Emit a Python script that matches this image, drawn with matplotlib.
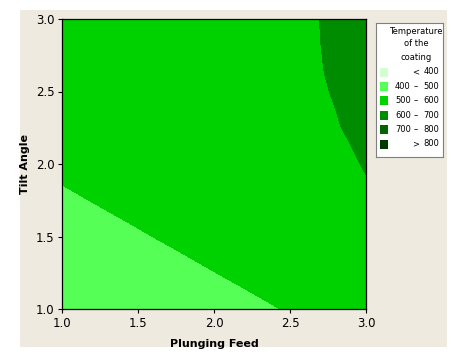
import numpy as np
import matplotlib
matplotlib.use("Agg")
import matplotlib.pyplot as plt
from matplotlib.patches import Rectangle

plt.rcParams['font.family'] = ['Liberation Sans Narrow', 'DejaVu Sans']

# grid of the response surface (estimated from the contour picture)
plunging_feed = [1.0, 1.25, 1.5, 1.75, 2.0, 2.25, 2.5, 2.75, 3.0]
tilt_angle = [1.0, 1.25, 1.5, 1.75, 1.875, 2.0, 2.125, 2.25, 2.375,
              2.5, 2.625, 2.75, 2.875, 3.0]

# temperature, one row per tilt angle
temp_y1000 = [416.8, 431.3, 445.8, 460.3, 474.8, 489.3, 503.8, 518.3, 532.8]
temp_y1250 = [443.2, 457.2, 471.2, 485.2, 499.2, 513.2, 527.2, 541.2, 555.2]
temp_y1500 = [467.9, 481.4, 494.9, 508.4, 521.9, 535.4, 548.9, 562.4, 575.9]
temp_y1750 = [490.8, 503.9, 517.1, 530.2, 543.3, 556.4, 569.6, 582.7, 595.8]
temp_y1875 = [501.6, 513.8, 525.9, 538.1, 550.2, 562.4, 574.5, 586.7, 598.8]
temp_y2000 = [511.0, 522.4, 533.7, 545.1, 556.4, 567.8, 579.1, 590.5, 601.8]
temp_y2125 = [519.2, 529.8, 540.4, 551.0, 561.7, 572.3, 582.9, 593.5, 604.1]
temp_y2250 = [526.5, 536.5, 546.5, 556.5, 566.5, 576.5, 586.5, 596.5, 606.5]
temp_y2375 = [532.6, 542.0, 551.3, 560.7, 570.0, 579.4, 588.7, 598.1, 607.4]
temp_y2500 = [538.1, 546.9, 555.7, 564.5, 573.3, 582.1, 590.9, 599.7, 608.5]
temp_y2625 = [542.8, 551.1, 559.4, 567.6, 575.9, 584.2, 592.5, 600.8, 609.0]
temp_y2750 = [546.7, 554.5, 562.3, 570.0, 577.8, 585.6, 593.4, 601.2, 608.9]
temp_y2875 = [550.2, 557.5, 564.9, 572.2, 579.5, 586.9, 594.2, 601.5, 608.8]
temp_y3000 = [553.1, 560.0, 566.9, 573.8, 580.7, 587.7, 594.6, 601.5, 608.4]

levels = [400, 500, 600, 700, 800]
colors = ['#D2FFD2', '#55FF55', '#00D200', '#008C00', '#006400', '#003A00']

Z = np.array([temp_y1000, temp_y1250, temp_y1500, temp_y1750, temp_y1875,
              temp_y2000, temp_y2125, temp_y2250, temp_y2375, temp_y2500,
              temp_y2625, temp_y2750, temp_y2875, temp_y3000])
X, Y = np.meshgrid(plunging_feed, tilt_angle)

fig = plt.figure(figsize=(4.52, 3.58), dpi=100)
fig.patch.set_facecolor('white')
# beige panel behind the chart
fig.patches.append(Rectangle((20 / 452, 1 - 347 / 358), 427 / 452, 337 / 358,
                             transform=fig.transFigure, facecolor='#EEEAE0',
                             edgecolor='none', zorder=-1))

ax = fig.add_axes([62 / 452, 1 - 309 / 358, 304 / 452, 290 / 358])
ax.contourf(X, Y, Z, levels=[0] + levels + [2000], colors=colors)
ax.set_xlim(1.0, 3.0)
ax.set_ylim(1.0, 3.0)
ax.set_xticks([1.0, 1.5, 2.0, 2.5, 3.0])
ax.set_yticks([1.0, 1.5, 2.0, 2.5, 3.0])
ax.tick_params(direction='out', length=3, width=0.8, labelsize=8.5, pad=2.5)
for s in ax.spines.values():
    s.set_linewidth(0.9)
ax.set_xlabel('Plunging Feed', fontsize=8, fontweight='bold', labelpad=7)
ax.set_ylabel('Tilt Angle', fontsize=8, fontweight='bold', labelpad=4)

# legend box
lg = fig.add_axes([376 / 452, 1 - 157 / 358, 67 / 452, 134 / 358])
lg.set_xlim(376, 443)
lg.set_ylim(157, 23)
lg.set_xticks([])
lg.set_yticks([])
for s in lg.spines.values():
    s.set_color('#7F7F7F')
    s.set_linewidth(0.8)
for i, line in enumerate(['Temperature', 'of the', 'coating']):
    lg.text(416, 31 + i * 13, line, ha='center', va='center', fontsize=6)

labels = ['<  ' + str(levels[0])]
for lo, hi in zip(levels[:-1], levels[1:]):
    labels.append(str(lo) + '  \u2013  ' + str(hi))
labels.append('>  ' + str(levels[-1]))

for i, (lab, c) in enumerate(zip(labels, colors)):
    yc = 72 + i * 14.4
    lg.add_patch(Rectangle((380, yc - 4.5), 8.5, 9, facecolor=c, edgecolor='none'))
    parts = lab.split('  ')
    if len(parts) == 3:
        lg.text(395, yc, parts[0], ha='left', va='center', fontsize=6)
        lg.text(416, yc, parts[1], ha='center', va='center', fontsize=6)
        lg.text(439, yc, parts[2], ha='right', va='center', fontsize=6)
    else:
        lg.text(416, yc, parts[0], ha='center', va='center', fontsize=6)
        lg.text(439, yc, parts[1], ha='right', va='center', fontsize=6)

fig.savefig('out.png', dpi=100)
